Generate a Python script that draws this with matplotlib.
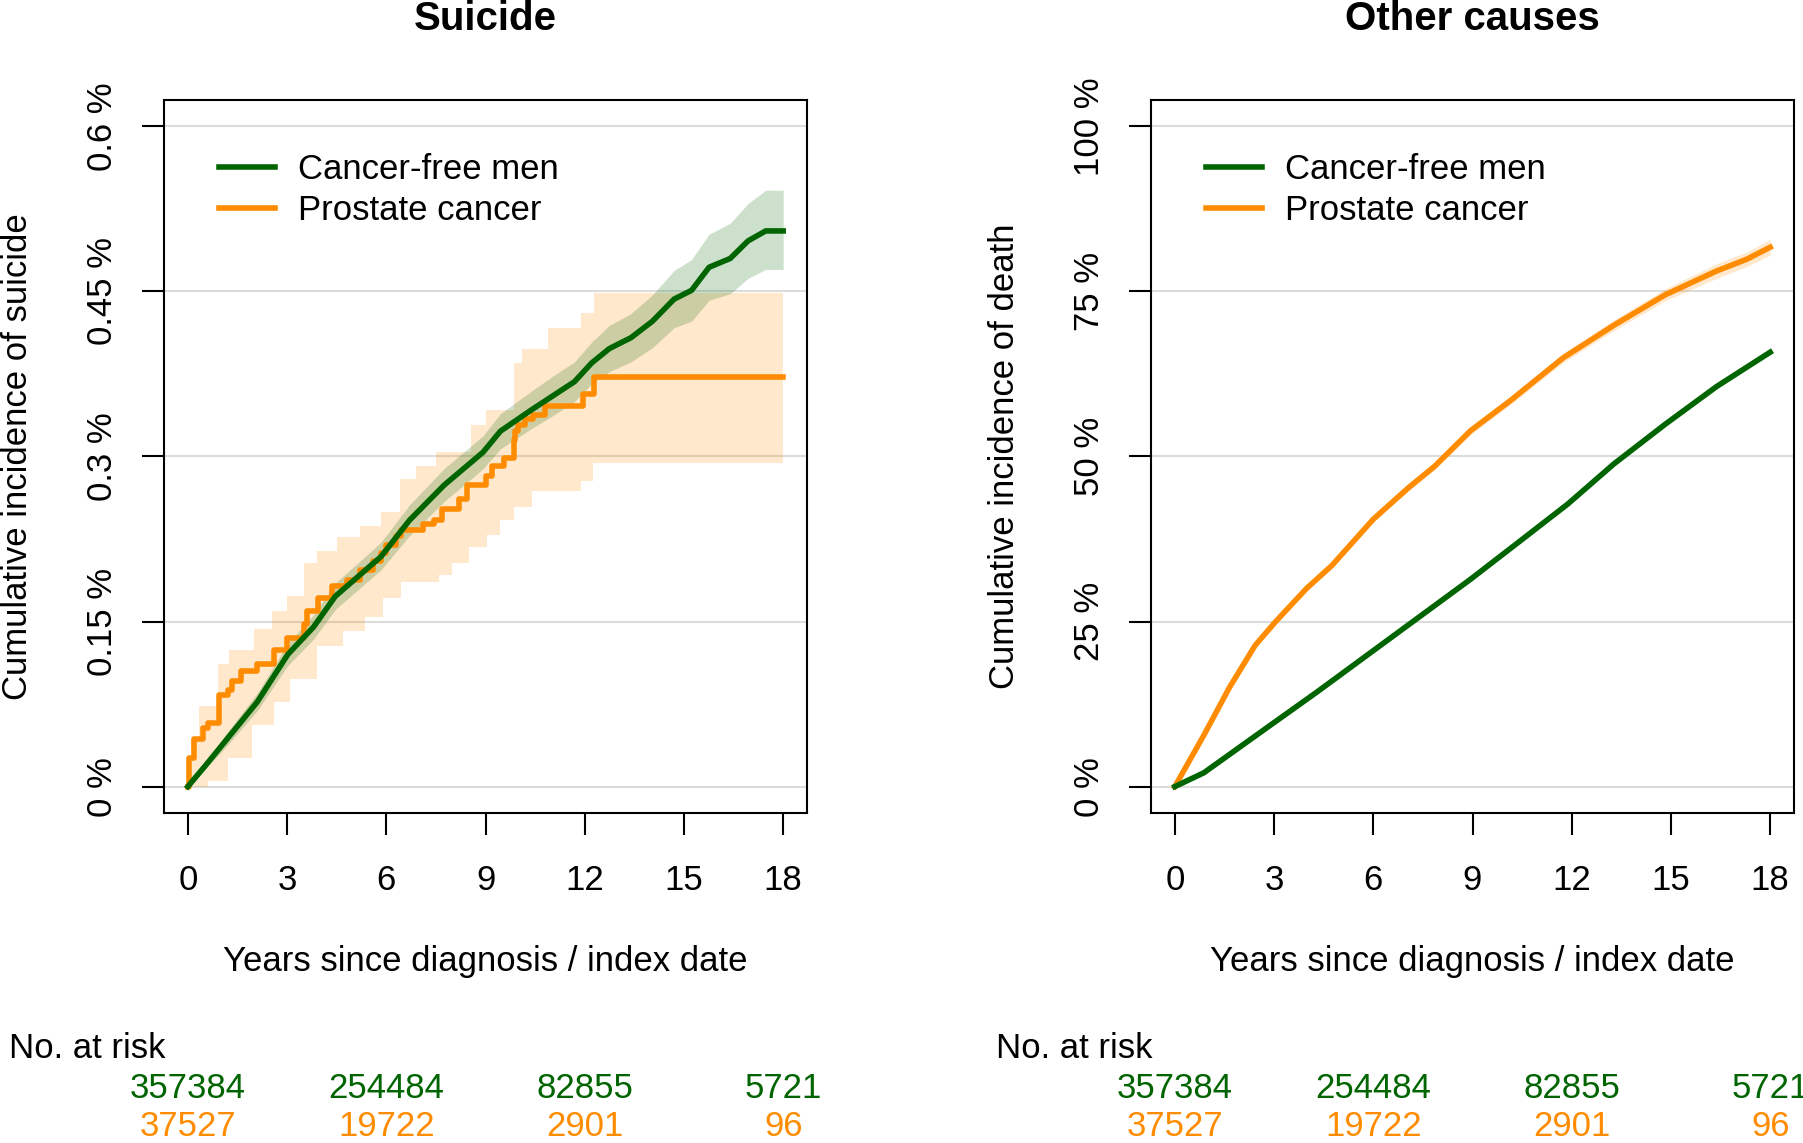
import matplotlib
matplotlib.use("Agg")
import matplotlib.pyplot as plt
import matplotlib.transforms as mtransforms

plt.rcParams['font.family'] = ['Liberation Sans', 'DejaVu Sans']

GREEN = '#006400'
ORANGE = '#FF8C00'
GRID = '#DCDCDC'

# ---- data -----------------------------------------------------------
titles = ['Suicide', 'Other causes']
ylabels = ['Cumulative incidence of suicide', 'Cumulative incidence of death']
series_names = ['Cancer-free men', 'Prostate cancer']
xticks = [0, 3, 6, 9, 12, 15, 18]

# suicide, cancer-free men (%)
sui_free_t = [0, 0.53, 1.18, 2.1, 3.02, 3.8, 4.46, 5.84, 6.7, 7.75, 8.93, 9.45, 10.37,
              11.03, 11.69, 12.21, 12.74, 13.4, 14.05, 14.7, 15.23, 15.76, 16.4, 16.94, 17.47, 18]
sui_free = [0, 0.019, 0.043, 0.077, 0.12, 0.145, 0.173, 0.209, 0.242, 0.274, 0.304, 0.323, 0.342,
            0.355, 0.368, 0.385, 0.398, 0.408, 0.423, 0.443, 0.451, 0.472, 0.48, 0.496, 0.505, 0.505]
sui_free_hi = [0, 0.022, 0.049, 0.085, 0.130, 0.156, 0.185, 0.222, 0.256, 0.289, 0.319, 0.339, 0.359,
               0.373, 0.386, 0.404, 0.419, 0.430, 0.447, 0.469, 0.479, 0.502, 0.512, 0.530, 0.542, 0.542]
sui_free_lo = [0, 0.016, 0.037, 0.069, 0.110, 0.134, 0.161, 0.197, 0.228, 0.259, 0.289, 0.307, 0.325,
               0.337, 0.350, 0.366, 0.377, 0.386, 0.399, 0.417, 0.423, 0.442, 0.448, 0.462, 0.470, 0.470]

# suicide, prostate cancer (%), step function
sui_pc_t = [0, 0.05, 0.2, 0.45, 0.6, 0.95, 1.2, 1.35, 1.6, 2.1, 2.6, 3.0, 3.5, 3.6, 3.95, 4.35,
            4.8, 5.2, 5.6, 5.85, 6.0, 6.3, 6.45, 7.1, 7.45, 7.68, 8.2, 8.45, 9.0, 9.2, 9.55,
            9.85, 9.9, 9.98, 10.2, 10.45, 10.8, 11.95, 12.28, 18]
sui_pc = [0, 0.026, 0.043, 0.053, 0.058, 0.083, 0.088, 0.096, 0.105, 0.111, 0.124, 0.135, 0.148,
          0.16, 0.171, 0.182, 0.188, 0.197, 0.205, 0.212, 0.22, 0.228, 0.233, 0.239, 0.242, 0.252,
          0.261, 0.274, 0.282, 0.291, 0.299, 0.315, 0.323, 0.329, 0.334, 0.338, 0.346, 0.357,
          0.372, 0.372]
sui_pc_hi_t = [0, 0.1, 0.35, 0.9, 1.25, 2.0, 2.55, 3.0, 3.5, 3.9, 4.5, 5.2, 5.85, 6.4, 6.9, 7.5,
               8.55, 9.0, 9.85, 10.1, 10.9, 11.9, 12.28, 18]
sui_pc_hi = [0, 0.043, 0.073, 0.111, 0.124, 0.143, 0.16, 0.173, 0.203, 0.214, 0.227, 0.237, 0.25,
             0.28, 0.291, 0.304, 0.329, 0.342, 0.385, 0.398, 0.417, 0.43, 0.449, 0.449]
sui_pc_lo_t = [0, 0.6, 1.2, 1.95, 2.6, 3.1, 3.9, 4.7, 5.35, 5.9, 6.45, 7.6, 8.0, 8.5, 9.05, 9.45,
               9.85, 10.4, 11.9, 12.25, 18]
sui_pc_lo = [0, 0.005, 0.026, 0.056, 0.077, 0.098, 0.128, 0.141, 0.154, 0.171, 0.186, 0.192, 0.203,
             0.218, 0.229, 0.242, 0.254, 0.269, 0.278, 0.294, 0.294]

# other causes (%)
oc_free_t = [0, 0.88, 2.89, 4.29, 5.84, 7.39, 8.94, 10.49, 11.88, 13.28, 14.83, 16.38, 18]
oc_free = [0, 2.1, 9.3, 14.3, 20.0, 25.7, 31.4, 37.4, 42.8, 48.9, 54.9, 60.6, 65.8]
oc_pc_t = [0, 0.88, 1.65, 2.43, 3.05, 3.98, 4.75, 6.0, 7.07, 7.85, 8.94, 10.18, 11.73, 13.28,
           14.83, 16.38, 17.3, 18]
oc_pc = [0, 7.8, 15.0, 21.4, 25.0, 30.0, 33.5, 40.5, 45.3, 48.5, 53.9, 58.6, 64.9, 69.9, 74.5,
         78.1, 79.9, 81.7]
oc_pc_lo = [0, 7.6, 14.8, 21.1, 24.7, 29.7, 33.1, 40.1, 44.8, 48.0, 53.3, 58.0, 64.2, 69.1, 73.6,
            77.0, 78.8, 80.5]
oc_pc_hi = [0, 8.0, 15.2, 21.7, 25.3, 30.3, 33.9, 40.9, 45.8, 49.0, 54.5, 59.2, 65.6, 70.7, 75.4,
            79.2, 81.0, 82.9]

# numbers at risk
risk_t = [0, 6, 12, 18]
risk_free = [357384, 254484, 82855, 5721]
risk_pc = [37527, 19722, 2901, 96]

sui_yticks = [0, 0.15, 0.3, 0.45, 0.6]
sui_yticklabels = ['0 %', '0.15 %', '0.3 %', '0.45 %', '0.6 %']
oc_yticks = [0, 25, 50, 75, 100]
oc_yticklabels = ['0 %', '25 %', '50 %', '75 %', '100 %']


def steps(t, v):
    # vertices of a right-continuous step function
    xs, ys = [t[0]], [v[0]]
    for i in range(1, len(t)):
        xs += [t[i], t[i]]
        ys += [v[i - 1], v[i]]
    return xs, ys


W, H = 1803, 1143
fig = plt.figure(figsize=(W / 100, H / 100), dpi=100)
FS = 25
LW = 4

ax_l = fig.add_axes([164 / W, (H - 813) / H, 643 / W, 713 / H])
ax_r = fig.add_axes([1151 / W, (H - 813) / H, 643 / W, 713 / H])

# ---- left panel: suicide ----
ax_l.fill_between(sui_free_t, sui_free_lo, sui_free_hi, color=GREEN, alpha=0.2, lw=0, zorder=2)
hx, hy = steps(sui_pc_hi_t, sui_pc_hi)
lx, ly = steps(sui_pc_lo_t, sui_pc_lo)
ax_l.fill(hx + lx[::-1], hy + ly[::-1], color=ORANGE, alpha=0.2, lw=0, zorder=1)
ax_l.plot(sui_free_t, sui_free, color=GREEN, lw=LW, zorder=4, label=series_names[0])
ax_l.step(sui_pc_t, sui_pc, where='post', color=ORANGE, lw=LW, zorder=3, label=series_names[1])

# ---- right panel: other causes ----
ax_r.fill_between(oc_pc_t, oc_pc_lo, oc_pc_hi, color=ORANGE, alpha=0.2, lw=0, zorder=1)
ax_r.plot(oc_free_t, oc_free, color=GREEN, lw=LW, zorder=4, label=series_names[0])
ax_r.plot(oc_pc_t, oc_pc, color=ORANGE, lw=LW, zorder=3, label=series_names[1])

for ax, title, ylab, yt, ytl in [(ax_l, titles[0], ylabels[0], sui_yticks, sui_yticklabels),
                                 (ax_r, titles[1], ylabels[1], oc_yticks, oc_yticklabels)]:
    span = yt[-1] - yt[0]
    ax.set_ylim(yt[0] - 0.04 * span, yt[-1] + 0.04 * span)
    ax.set_xlim(-0.72, 18.72)
    for y in yt:
        ax.axhline(y, color=GRID, lw=1.5, zorder=0)
    ax.set_xticks(xticks)
    ax.set_xticklabels([str(x) for x in xticks], fontsize=FS)
    ax.set_yticks(yt)
    ax.set_yticklabels(ytl, fontsize=FS, rotation=90, ha='center', va='center')
    ax.tick_params(axis='y', length=15.5, width=1.5, pad=28.5)
    ax.tick_params(axis='x', length=15.5, width=1.5, pad=21)
    for s in ax.spines.values():
        s.set_linewidth(1.5)

    ax.legend(loc='upper left', bbox_to_anchor=(0.086, 0.926), frameon=False, fontsize=FS,
              handlelength=1.6, handletextpad=0.67, labelspacing=0.25, borderpad=0,
              borderaxespad=0)

    pos = ax.get_position()
    cx = pos.x0 + pos.width / 2
    fig.text(cx, 1 - 19 / H, title, fontsize=29, fontweight='bold', ha='center', va='center')
    fig.text(cx, 1 - 962 / H, 'Years since diagnosis / index date', fontsize=FS,
             ha='center', va='center')
    ax.text(-0.2286, 0.5, ylab, transform=ax.transAxes, rotation=90, fontsize=FS,
            ha='center', va='center')

    # numbers at risk
    tr_ax = mtransforms.blended_transform_factory(ax.transAxes, fig.transFigure)
    tr_dat = mtransforms.blended_transform_factory(ax.transData, fig.transFigure)
    fig.text(-0.241, 1 - 1048 / H, 'No. at risk', transform=tr_ax, fontsize=FS,
             ha='left', va='center')
    for t, n1, n2 in zip(risk_t, risk_free, risk_pc):
        fig.text(t, 1 - 1089 / H, str(n1), transform=tr_dat, fontsize=FS, color=GREEN,
                 ha='center', va='center')
        fig.text(t, 1 - 1127 / H, str(n2), transform=tr_dat, fontsize=FS, color=ORANGE,
                 ha='center', va='center')

fig.savefig('out.png', dpi=100)
